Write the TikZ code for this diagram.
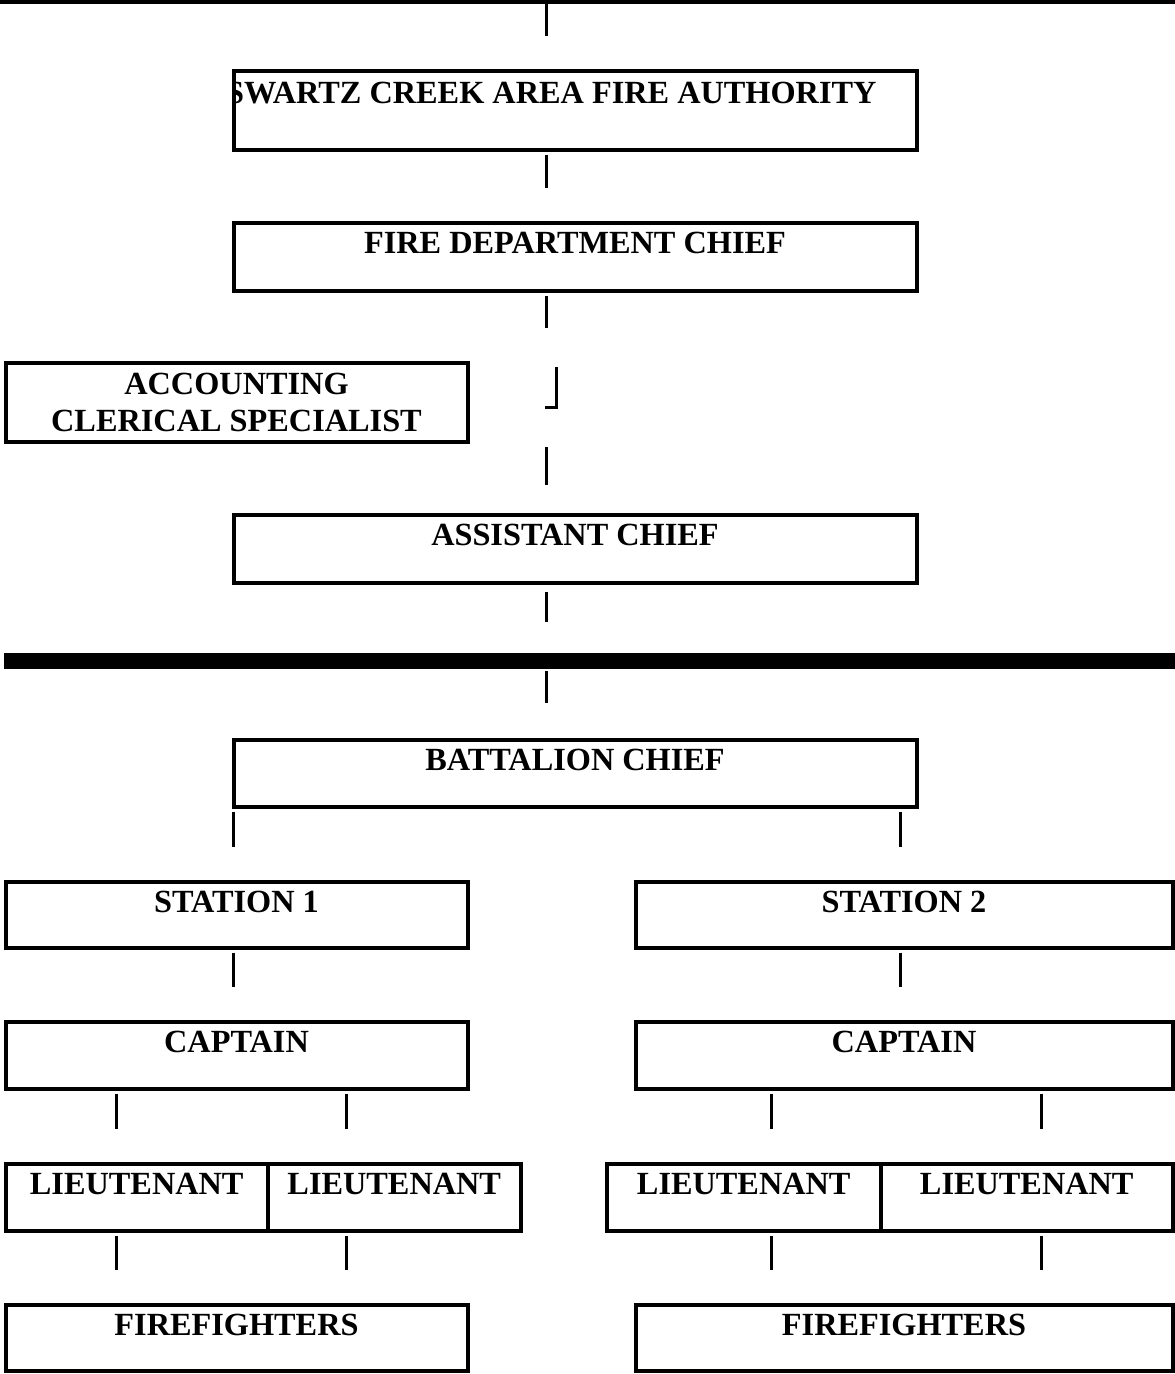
\documentclass[tikz,border=0pt]{standalone}
\usepackage{fontspec}
\setmainfont{Liberation Serif}
\usetikzlibrary{positioning}
\tikzset{
  post/.style = {draw, line width=4pt, anchor=north west, inner sep=0pt, outer sep=0pt},
  title/.style = {font=\bfseries\fontsize{32.3}{37}\selectfont, anchor=base, inner sep=0pt, align=center},
  link/.style = {line width=3pt, shorten <=5pt, shorten >=35pt}
}

\begin{document}
\begin{tikzpicture}[x=1pt, y=-1pt]
		\useasboundingbox (0,0) rectangle (1175,1374);
		% Rules
		\coordinate (spine) at (546,0);
		\draw[line width=4pt] (0,1.5) coordinate (ruleL) -- (1175,1.5) coordinate (ruleR);
		\draw[line width=16pt] (4,661) coordinate (barL) -- (1175,661) coordinate (barR);
		% Boxes
		\node[post, minimum width=683pt, minimum height=79pt] (scafa) at (233.5,70.5) {};
		\node[post, minimum width=683pt, minimum height=68pt] (chief) at (233.5,222.5) {};
		\node[post, minimum width=462pt, minimum height=79pt] (acct)  at (5.5,362.5) {};
		\node[post, minimum width=683pt, minimum height=68pt] (asst)  at (233.5,514.5) {};
		\node[post, minimum width=683pt, minimum height=67pt] (batt)  at (233.5,739.5) {};
		\node[post, minimum width=462pt, minimum height=66pt] (st1)   at (5.5,881.5) {};
		\node[post, minimum width=537pt, minimum height=66pt] (st2)   at (635.5,881.5) {};
		\node[post, minimum width=462pt, minimum height=67pt] (cap1)  at (5.5,1021.5) {};
		\node[post, minimum width=537pt, minimum height=67pt] (cap2)  at (635.5,1021.5) {};
		\node[post, minimum width=262.5pt, minimum height=67pt] (lt1) at (5.5,1163.5) {};
		\node[post, minimum width=252.5pt, minimum height=67pt] (lt2) at (lt1.north east) {};
		\node[post, minimum width=274.5pt, minimum height=67pt] (lt3) at (606.5,1163.5) {};
		\node[post, minimum width=291.5pt, minimum height=67pt] (lt4) at (lt3.north east) {};
		\node[post, minimum width=462pt, minimum height=66pt] (ff1)   at (5.5,1304.5) {};
		\node[post, minimum width=537pt, minimum height=66pt] (ff2)   at (635.5,1304.5) {};
		% Titles
		\begin{scope}
			\clip (scafa.north west) rectangle (scafa.south east);
			\node[title, anchor=base west] (t-scafa) at (226,103.5) {SWARTZ CREEK AREA FIRE AUTHORITY};
		\end{scope}
		\node[title] (t-chief) at ([yshift=-31pt]chief.north) {FIRE DEPARTMENT CHIEF};
		\node[title] (t-acct)  at ([yshift=-69pt]acct.north) {ACCOUNTING\\CLERICAL SPECIALIST};
		\node[title] (t-asst)  at ([yshift=-31pt]asst.north) {ASSISTANT CHIEF};
		\node[title] (t-batt)  at ([yshift=-31pt]batt.north) {BATTALION CHIEF};
		\node[title] (t-st1)   at ([yshift=-31pt]st1.north) {STATION 1};
		\node[title] (t-st2)   at ([yshift=-31pt]st2.north) {STATION 2};
		\node[title] (t-cap1)  at ([yshift=-31pt]cap1.north) {CAPTAIN};
		\node[title] (t-cap2)  at ([yshift=-31pt]cap2.north) {CAPTAIN};
		\node[title] (t-lt1)   at ([yshift=-31pt]lt1.north) {LIEUTENANT};
		\node[title] (t-lt2)   at ([yshift=-31pt]lt2.north) {LIEUTENANT};
		\node[title] (t-lt3)   at ([yshift=-31pt]lt3.north) {LIEUTENANT};
		\node[title] (t-lt4)   at ([yshift=-31pt]lt4.north) {LIEUTENANT};
		\node[title] (t-ff1)   at ([yshift=-31pt]ff1.north) {FIREFIGHTERS};
		\node[title] (t-ff2)   at ([yshift=-31pt]ff2.north) {FIREFIGHTERS};
		% Connectors
		\draw[link, shorten <=2.5pt] (spine |- ruleL) -- (spine |- scafa.north);
		\draw[link] (scafa.south -| spine) -- (chief.north -| spine);
		\draw[link, shorten >=0pt] (chief.south -| spine) -- ++(0,37.5) coordinate (gap1);
		\draw[line width=3pt] (545,407) coordinate (gap2) -| (556,367) coordinate (gap3);
		\draw[link, shorten <=0pt, shorten >=29.5pt] (spine |- 0,447) -- (asst.north -| spine);
		\draw[link, shorten <=9.5pt, shorten >=39pt] (asst.south -| spine) -- (spine |- barL);
		\draw[link, shorten <=10pt, shorten >=36.5pt] (spine |- barL) -- (batt.north -| spine);
		\draw[link] (batt.south west) -- (batt.south west |- st1.north);
		\draw[link] (batt.south -| 900,0) -- (st2.north -| 900,0);
		\draw[link] (st1.south -| batt.south west) -- (cap1.north -| batt.south west);
		\draw[link] (st2.south -| 900,0) -- (cap2.north -| 900,0);
		\foreach \x in {116,346,771,1041} {
			\draw[link] (cap1.south -| \x,0) -- (lt1.north -| \x,0);
			\draw[link] (lt1.south -| \x,0) -- (ff1.north -| \x,0);
		}
\end{tikzpicture}
\end{document}
